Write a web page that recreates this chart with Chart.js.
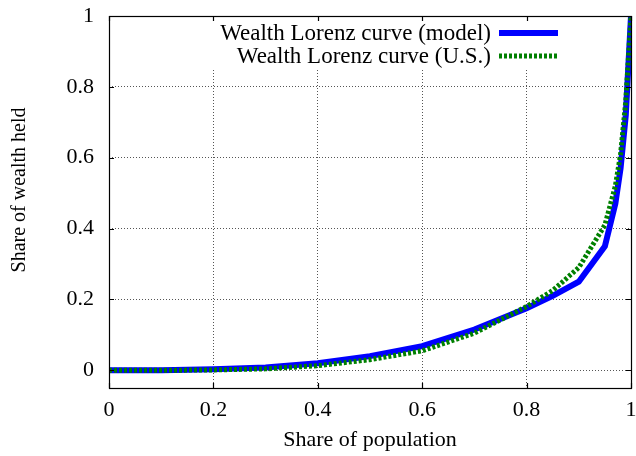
<!DOCTYPE html>
<html>
<head>
<meta charset="utf-8">
<script src="https://cdn.jsdelivr.net/npm/chart.js@4/dist/chart.umd.min.js"></script>
<style>
html,body{margin:0;padding:0;background:#fff;}
#wrap{width:636px;height:456px;}
</style>
</head>
<body>
<div id="wrap"><canvas id="c" width="636" height="456"></canvas></div>
<script>
// Data
const modelPopulation = [0, 0.1, 0.2, 0.3, 0.4, 0.5, 0.6, 0.7, 0.8, 0.85, 0.9, 0.95, 0.97, 0.98, 0.99, 1];
const modelWealth     = [0, 0.0, 0.003, 0.008, 0.02, 0.04, 0.068, 0.115, 0.175, 0.21, 0.25, 0.35, 0.47, 0.57, 0.72, 1];
const usPopulation    = [0, 0.1, 0.2, 0.3, 0.4, 0.5, 0.6, 0.7, 0.8, 0.85, 0.9, 0.95, 0.97, 0.98, 0.99, 1];
const usWealth        = [0, 0.0, 0.001, 0.004, 0.013, 0.03, 0.055, 0.105, 0.18, 0.225, 0.29, 0.41, 0.52, 0.61, 0.76, 1];
const xTickValues = [0, 0.2, 0.4, 0.6, 0.8, 1];
const yTickValues = [0, 0.2, 0.4, 0.6, 0.8, 1];
const seriesLabels = ['Wealth Lorenz curve (model)', 'Wealth Lorenz curve (U.S.)'];
const axisTitles = {x: 'Share of population', y: 'Share of wealth held'};

const FONT = 'Liberation Serif, Times New Roman, serif';

const toPoints = (xs, ys) => xs.map((x, i) => ({x: x, y: ys[i]}));

const framePlugin = {
  id: 'frame',
  beforeDatasetsDraw(chart) {
    const ctx = chart.ctx;
    ctx.save();
    ctx.fillStyle = '#fff';
    ctx.fillRect(205, 18, 365, 50);
    ctx.restore();
  },
  afterDraw(chart) {
    const ctx = chart.ctx;
    const a = chart.chartArea;
    const xs = chart.scales.x, ys = chart.scales.y;
    ctx.save();
    ctx.strokeStyle = '#000';
    ctx.lineWidth = 1.2;
    ctx.setLineDash([]);
    ctx.strokeRect(a.left + 0.5, a.top + 0.5, a.right - a.left, a.bottom - a.top);
    const tl = 5;
    ctx.beginPath();
    xTickValues.forEach(v => {
      const px = Math.round(xs.getPixelForValue(v)) + 0.5;
      ctx.moveTo(px, a.bottom); ctx.lineTo(px, a.bottom - tl);
      ctx.moveTo(px, a.top); ctx.lineTo(px, a.top + tl);
    });
    yTickValues.forEach(v => {
      const py = Math.round(ys.getPixelForValue(v)) + 0.5;
      ctx.moveTo(a.left, py); ctx.lineTo(a.left + tl, py);
      ctx.moveTo(a.right, py); ctx.lineTo(a.right - tl, py);
    });
    ctx.stroke();
    ctx.translate(20, 190);
    ctx.rotate(-Math.PI / 2);
    ctx.font = '20px ' + FONT;
    ctx.fillStyle = '#000';
    ctx.textAlign = 'center';
    ctx.textBaseline = 'middle';
    ctx.fillText(axisTitles.y, 0, 0);
    ctx.restore();

    ctx.save();
    ctx.font = '23px ' + FONT;
    ctx.fillStyle = '#000';
    ctx.textAlign = 'right';
    ctx.textBaseline = 'middle';
    const rows = [33, 56];
    chart.data.datasets.forEach((ds) => {
      const y = rows[ds.legendRow];
      ctx.fillText(ds.label, 491, y + 1);
      ctx.beginPath();
      ctx.strokeStyle = ds.borderColor;
      ctx.lineWidth = ds.borderWidth;
      ctx.setLineDash(ds.borderDash || []);
      ctx.lineCap = 'butt';
      ctx.moveTo(499, y);
      ctx.lineTo(558, y);
      ctx.stroke();
    });
    ctx.restore();
  }
};

new Chart(document.getElementById('c'), {
  type: 'line',
  data: {
    datasets: [
      {
        label: seriesLabels[0],
        legendRow: 0,
        data: toPoints(modelPopulation, modelWealth),
        borderColor: '#0000ff',
        borderWidth: 6,
        pointRadius: 0,
        tension: 0,
        fill: false,
        order: 1
      },
      {
        label: seriesLabels[1],
        legendRow: 1,
        data: toPoints(usPopulation, usWealth),
        borderColor: '#008000',
        borderWidth: 5,
        borderDash: [3, 2],
        borderCapStyle: 'butt',
        pointRadius: 0,
        tension: 0,
        fill: false,
        order: 0
      }
    ]
  },
  options: {
    responsive: false,
    animation: false,
    devicePixelRatio: 1,
    layout: {padding: {left: 0, right: 5, top: 16, bottom: 0}},
    plugins: {legend: {display: false}, tooltip: {enabled: false}},
    scales: {
      x: {
        type: 'linear',
        min: 0, max: 1,
        afterFit(s) { s.height = 68; s.paddingLeft = 0; s.paddingRight = 0; },
        afterBuildTicks(s) { s.ticks = xTickValues.map(v => ({value: v})); },
        ticks: {
          font: {family: FONT, size: 22},
          color: '#000',
          padding: 9,
          maxRotation: 0,
          autoSkip: false,
          callback: v => String(v)
        },
        grid: {color: '#555', lineWidth: 1, drawTicks: false},
        border: {display: false, dash: [1, 2]},
        title: {
          display: true,
          text: axisTitles.x,
          font: {family: FONT, size: 22},
          color: '#000',
          padding: {top: 0, bottom: 3}
        }
      },
      y: {
        type: 'linear',
        min: -0.05, max: 1,
        afterFit(s) { s.width = 109; s.paddingTop = 0; s.paddingBottom = 0; },
        afterBuildTicks(s) { s.ticks = yTickValues.map(v => ({value: v})); },
        ticks: {
          font: {family: FONT, size: 22},
          color: '#000',
          padding: 15,
          autoSkip: false,
          callback: v => String(v)
        },
        grid: {color: '#555', lineWidth: 1, drawTicks: false},
        border: {display: false, dash: [1, 2]}
      }
    }
  },
  plugins: [framePlugin]
});
</script>
</body>
</html>
